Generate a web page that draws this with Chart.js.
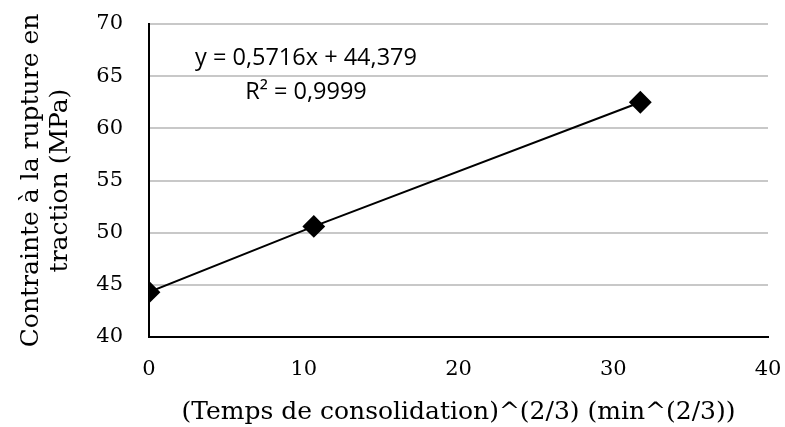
<!DOCTYPE html>
<html>
<head>
<meta charset="utf-8">
<script src="https://cdn.jsdelivr.net/npm/chart.js@4"></script>
<style>
  html, body { margin: 0; padding: 0; background: #fff; }
  #wrap { width: 785px; height: 427px; }
</style>
</head>
<body>
<div id="wrap"><canvas id="chart" width="785" height="427"></canvas></div>
<script>
// data
const xValues = [0, 10.65, 31.75];
const yValues = [44.3, 50.6, 62.5];
const xTicks = [0, 10, 20, 30, 40];
const yTicks = [40, 45, 50, 55, 60, 65, 70];
const equationText = 'y = 0,5716x + 44,379';
const r2Text = 'R² = 0,9999';

const points = xValues.map((x, i) => ({ x: x, y: yValues[i] }));

const serif = '"DejaVu Serif", serif';

// trendline label (Excel style)
const labelPlugin = {
  id: 'trendLabel',
  afterDatasetsDraw(chart) {
    const ctx = chart.ctx;
    const area = chart.chartArea;
    ctx.save();
    ctx.fillStyle = '#000';
    ctx.font = '23.5px "Open Sans", sans-serif';
    ctx.textAlign = 'center';
    ctx.textBaseline = 'middle';
    ctx.fillText(equationText, area.left + 157, area.top + 34);
    ctx.fillText(r2Text, area.left + 157, area.top + 68);
    ctx.restore();
  }
};

new Chart(document.getElementById('chart'), {
  type: 'scatter',
  data: {
    datasets: [{
      label: 'Contrainte',
      data: points,
      showLine: true,
      borderColor: '#000',
      borderWidth: 2,
      backgroundColor: '#000',
      pointStyle: 'rectRot',
      pointRadius: 10,
      pointHoverRadius: 10,
    }],
  },
  options: {
    responsive: false,
    animation: false,
    layout: { padding: { top: 24, right: 17, left: 0, bottom: 0 } },
    plugins: {
      legend: { display: false },
      tooltip: { enabled: false },
    },
    scales: {
      x: {
        type: 'linear',
        min: 0,
        max: 40,
        afterBuildTicks: (scale) => { scale.ticks = xTicks.map(v => ({ value: v })); },
        afterFit: (scale) => {
          scale.height = 90;
          scale.paddingLeft = 0;
          scale.paddingRight = 0;
        },
        grid: { display: false, drawTicks: false },
        border: { display: true, color: '#000', width: 2 },
        ticks: {
          color: '#000',
          padding: 20,
          font: { family: serif, size: 21 },
        },
        title: {
          display: true,
          text: '(Temps de consolidation)^(2/3) (min^(2/3))',
          color: '#000',
          font: { family: serif, size: 25 },
          padding: { top: 0, bottom: 0 },
        },
      },
      y: {
        min: 40,
        max: 70,
        afterBuildTicks: (scale) => { scale.ticks = yTicks.map(v => ({ value: v })); },
        afterFit: (scale) => {
          scale.width = 149;
          scale.paddingTop = 0;
          scale.paddingBottom = 0;
        },
        grid: { color: '#c8c8c8', lineWidth: 2, drawTicks: false },
        border: { display: true, color: '#000', width: 2 },
        ticks: {
          color: '#000',
          padding: 26,
          font: { family: serif, size: 21 },
        },
        title: {
          display: true,
          text: ['Contrainte à la rupture en', 'traction (MPa)'],
          color: '#000',
          font: { family: serif, size: 25, lineHeight: 1.16 },
          padding: { top: 17, bottom: 0 },
        },
      },
    },
  },
  plugins: [labelPlugin],
});
</script>
</body>
</html>
